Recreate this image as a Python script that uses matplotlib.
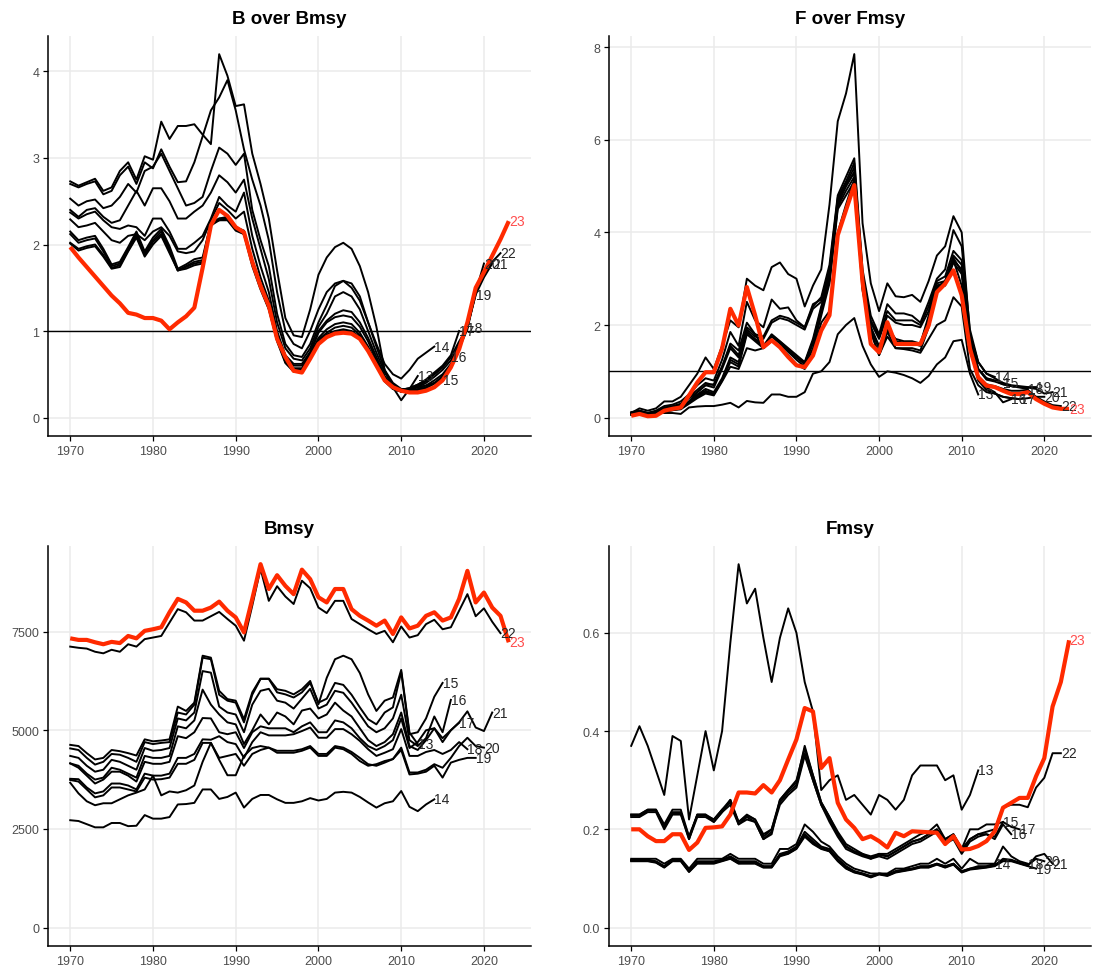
import numpy as np
import matplotlib
matplotlib.use('Agg')
import matplotlib.pyplot as plt

plt.rcParams['font.family'] = ['Liberation Sans', 'DejaVu Sans']

START_YEAR = 1970
runs = [13, 14, 15, 16, 17, 18, 19, 20, 21, 22, 23]

# ---- B over Bmsy (one list per assessment run, values from 1970 on)
bbmsy_13 = [2.73, 2.68, 2.72, 2.76, 2.62, 2.66, 2.85, 2.95, 2.75, 3.02, 2.98,
            3.42, 3.22, 3.37, 3.37, 3.39, 3.27, 3.16, 4.20, 3.95, 3.60,
            3.62, 3.05, 2.70, 2.30, 1.70, 1.15, 0.95, 0.93, 1.25, 1.65,
            1.85, 1.97, 2.02, 1.95, 1.75, 1.45, 1.05, 0.55, 0.35, 0.20,
            0.33, 0.48]
bbmsy_14 = [2.70, 2.66, 2.70, 2.73, 2.58, 2.62, 2.80, 2.90, 2.70, 2.95, 2.88,
            3.10, 2.90, 2.72, 2.73, 2.95, 3.25, 3.55, 3.70, 3.90, 3.55,
            3.10, 2.75, 2.45, 2.05, 1.45, 1.00, 0.85, 0.80, 1.00, 1.25,
            1.45, 1.55, 1.58, 1.50, 1.35, 1.10, 0.85, 0.62, 0.50, 0.45,
            0.55, 0.68, 0.75, 0.82]
bbmsy_15 = [2.53, 2.45, 2.50, 2.52, 2.42, 2.45, 2.55, 2.70, 2.60, 2.85, 2.90,
            3.05, 2.85, 2.65, 2.45, 2.48, 2.55, 2.85, 3.12, 3.05, 2.92,
            3.05, 2.40, 2.05, 1.75, 1.20, 0.85, 0.72, 0.70, 0.85, 1.10,
            1.30, 1.52, 1.58, 1.55, 1.40, 1.10, 0.82, 0.55, 0.40, 0.33,
            0.33, 0.35, 0.37, 0.40, 0.43]
bbmsy_16 = [2.40, 2.32, 2.40, 2.42, 2.32, 2.25, 2.28, 2.45, 2.62, 2.45, 2.65,
            2.65, 2.50, 2.30, 2.30, 2.38, 2.45, 2.60, 2.80, 2.72, 2.60,
            2.75, 2.30, 1.95, 1.60, 1.10, 0.80, 0.68, 0.66, 0.80, 1.05,
            1.20, 1.40, 1.45, 1.40, 1.25, 1.00, 0.75, 0.52, 0.38, 0.32,
            0.34, 0.38, 0.43, 0.50, 0.58, 0.70]
bbmsy_17 = [2.37, 2.30, 2.35, 2.38, 2.28, 2.20, 2.18, 2.22, 2.20, 2.10, 2.30,
            2.30, 2.15, 1.95, 1.95, 2.02, 2.10, 2.30, 2.55, 2.45, 2.38,
            2.60, 2.10, 1.75, 1.45, 1.00, 0.72, 0.62, 0.62, 0.76, 1.00,
            1.12, 1.20, 1.24, 1.22, 1.10, 0.92, 0.70, 0.48, 0.36, 0.32,
            0.34, 0.38, 0.44, 0.52, 0.60, 0.72, 1.00]
bbmsy_18 = [2.29, 2.20, 2.22, 2.25, 2.15, 2.05, 2.02, 2.10, 2.12, 2.05, 2.15,
            2.20, 2.10, 1.92, 1.90, 1.92, 2.05, 2.28, 2.48, 2.40, 2.30,
            2.38, 1.95, 1.62, 1.35, 0.95, 0.70, 0.60, 0.60, 0.74, 0.98,
            1.10, 1.16, 1.18, 1.16, 1.05, 0.88, 0.66, 0.46, 0.35, 0.31,
            0.33, 0.36, 0.42, 0.50, 0.58, 0.70, 0.88, 1.04]
bbmsy_19 = [2.15, 2.05, 2.08, 2.10, 1.95, 1.77, 1.80, 1.97, 2.15, 1.92, 2.08,
            2.18, 1.98, 1.72, 1.77, 1.83, 1.85, 2.25, 2.30, 2.32, 2.20,
            2.16, 1.82, 1.55, 1.30, 0.93, 0.68, 0.57, 0.57, 0.72, 0.92,
            1.02, 1.08, 1.10, 1.08, 0.98, 0.82, 0.63, 0.44, 0.34, 0.30,
            0.32, 0.35, 0.40, 0.47, 0.55, 0.66, 0.84, 1.05, 1.42]
bbmsy_20 = [2.12, 2.02, 2.05, 2.07, 1.92, 1.75, 1.78, 1.95, 2.13, 1.90, 2.05,
            2.15, 1.95, 1.70, 1.75, 1.80, 1.82, 2.25, 2.28, 2.30, 2.18,
            2.14, 1.80, 1.53, 1.28, 0.92, 0.66, 0.55, 0.55, 0.70, 0.90,
            0.98, 1.04, 1.06, 1.04, 0.95, 0.80, 0.62, 0.43, 0.34, 0.30,
            0.31, 0.33, 0.37, 0.43, 0.50, 0.62, 0.80, 1.02, 1.45, 1.78]
bbmsy_21 = [2.02, 1.95, 1.98, 2.00, 1.88, 1.73, 1.76, 1.93, 2.10, 1.88, 2.03,
            2.12, 1.92, 1.70, 1.74, 1.78, 1.80, 2.22, 2.28, 2.28, 2.16,
            2.12, 1.78, 1.50, 1.26, 0.90, 0.64, 0.54, 0.54, 0.69, 0.88,
            0.96, 1.00, 1.02, 1.00, 0.93, 0.78, 0.61, 0.42, 0.33, 0.30,
            0.30, 0.32, 0.35, 0.40, 0.48, 0.60, 0.80, 1.05, 1.42, 1.62, 1.78]
bbmsy_22 = [2.01, 1.93, 1.96, 1.98, 1.86, 1.72, 1.74, 1.92, 2.08, 1.86, 2.00,
            2.10, 1.90, 1.70, 1.72, 1.76, 1.78, 2.22, 2.30, 2.30, 2.18,
            2.12, 1.75, 1.48, 1.25, 0.88, 0.63, 0.53, 0.53, 0.68, 0.87,
            0.95, 0.99, 1.00, 0.99, 0.92, 0.77, 0.60, 0.42, 0.33, 0.30,
            0.30, 0.31, 0.34, 0.39, 0.46, 0.60, 0.80, 1.07, 1.48, 1.65, 1.80, 1.90]
bbmsy_23 = [1.97, 1.85, 1.74, 1.63, 1.52, 1.41, 1.32, 1.21, 1.19, 1.15, 1.15,
            1.12, 1.02, 1.10, 1.17, 1.27, 1.73, 2.22, 2.40, 2.33, 2.20,
            2.14, 1.80, 1.52, 1.29, 0.91, 0.70, 0.54, 0.52, 0.68, 0.85,
            0.93, 0.97, 0.98, 0.97, 0.91, 0.77, 0.60, 0.43, 0.35, 0.31,
            0.29, 0.29, 0.31, 0.35, 0.43, 0.58, 0.79, 1.10, 1.50, 1.68,
            1.87, 2.06, 2.27]

# ---- F over Fmsy
ffmsy_13 = [0.12, 0.15, 0.10, 0.12, 0.10, 0.10, 0.08, 0.22, 0.24, 0.25, 0.25,
            0.28, 0.32, 0.22, 0.36, 0.33, 0.32, 0.50, 0.50, 0.45, 0.45,
            0.55, 0.95, 1.00, 1.20, 1.80, 2.00, 2.15, 1.55, 1.15, 0.88,
            1.00, 0.97, 0.92, 0.85, 0.75, 0.90, 1.15, 1.30, 1.65, 1.68,
            0.95, 0.50]
ffmsy_14 = [0.10, 0.20, 0.15, 0.20, 0.35, 0.35, 0.45, 0.70, 0.95, 1.30, 1.05,
            1.55, 2.10, 1.95, 3.00, 2.85, 2.75, 3.25, 3.35, 3.10, 3.00,
            2.40, 2.85, 3.20, 4.60, 6.40, 7.00, 7.85, 4.20, 2.90, 2.30,
            2.90, 2.62, 2.60, 2.65, 2.50, 2.95, 3.50, 3.70, 4.35, 4.00,
            1.80, 1.20, 0.95, 0.88]
ffmsy_15 = [0.10, 0.15, 0.10, 0.15, 0.25, 0.28, 0.35, 0.50, 0.70, 0.85, 0.80,
            1.25, 1.85, 1.55, 2.50, 2.10, 1.95, 2.55, 2.35, 2.38, 2.10,
            1.95, 2.40, 2.60, 3.30, 4.80, 5.20, 5.60, 3.20, 2.20, 1.80,
            2.45, 2.25, 2.25, 2.20, 2.05, 2.50, 3.00, 3.20, 4.05, 3.70,
            1.90, 1.20, 0.95, 0.85, 0.75]
ffmsy_16 = [0.10, 0.14, 0.10, 0.14, 0.22, 0.25, 0.30, 0.45, 0.60, 0.75, 0.70,
            1.10, 1.55, 1.35, 1.95, 1.80, 1.75, 2.10, 2.20, 2.15, 2.05,
            1.95, 2.45, 2.55, 3.20, 4.75, 5.10, 5.50, 3.10, 2.10, 1.75,
            2.30, 2.10, 2.10, 2.10, 2.00, 2.40, 2.95, 3.05, 3.60, 3.40,
            1.60, 0.85, 0.65, 0.55, 0.33, 0.40]
ffmsy_17 = [0.09, 0.13, 0.09, 0.13, 0.20, 0.22, 0.28, 0.42, 0.55, 0.70, 0.65,
            1.05, 1.50, 1.30, 1.90, 1.75, 1.70, 2.05, 2.15, 2.10, 2.00,
            1.90, 2.35, 2.50, 3.10, 4.70, 5.05, 5.40, 3.00, 2.05, 1.70,
            2.20, 2.05, 2.00, 2.00, 1.95, 2.30, 2.90, 2.95, 3.50, 3.30,
            1.50, 0.80, 0.60, 0.52, 0.45, 0.42, 0.40]
ffmsy_18 = [0.08, 0.12, 0.08, 0.10, 0.18, 0.20, 0.22, 0.35, 0.50, 0.62, 0.55,
            0.85, 1.30, 1.20, 1.85, 1.70, 1.55, 1.80, 1.65, 1.50, 1.35,
            1.20, 1.70, 2.40, 3.00, 4.60, 5.00, 5.30, 2.90, 1.95, 1.55,
            1.95, 1.70, 1.65, 1.65, 1.60, 2.20, 2.85, 2.90, 3.40, 3.20,
            1.70, 1.05, 0.85, 0.80, 0.72, 0.68, 0.65, 0.62]
ffmsy_19 = [0.07, 0.10, 0.07, 0.09, 0.15, 0.18, 0.20, 0.32, 0.45, 0.55, 0.50,
            0.80, 1.20, 1.10, 1.80, 1.65, 1.50, 1.78, 1.62, 1.45, 1.30,
            1.15, 1.60, 2.30, 2.95, 4.55, 4.90, 5.20, 2.80, 1.90, 1.50,
            1.90, 1.65, 1.60, 1.60, 1.55, 2.10, 2.80, 2.85, 3.35, 3.10,
            1.65, 1.05, 0.85, 0.80, 0.75, 0.70, 0.68, 0.66, 0.66]
ffmsy_20 = [0.07, 0.10, 0.07, 0.08, 0.14, 0.16, 0.18, 0.30, 0.42, 0.52, 0.48,
            0.78, 1.10, 1.05, 1.50, 1.45, 1.50, 1.75, 1.60, 1.42, 1.25,
            1.10, 1.50, 2.20, 2.90, 4.50, 4.80, 5.10, 2.75, 1.85, 1.35,
            1.75, 1.50, 1.48, 1.45, 1.40, 1.70, 2.00, 2.10, 2.60, 2.40,
            1.05, 0.70, 0.55, 0.52, 0.45, 0.42, 0.40, 0.42, 0.45, 0.45]
ffmsy_21 = [0.08, 0.11, 0.08, 0.10, 0.16, 0.18, 0.20, 0.33, 0.48, 0.58, 0.52,
            0.82, 1.25, 1.15, 1.85, 1.68, 1.52, 1.78, 1.64, 1.48, 1.30,
            1.18, 1.65, 2.35, 3.05, 4.65, 5.00, 5.30, 2.85, 1.95, 1.50,
            1.90, 1.65, 1.62, 1.62, 1.58, 2.15, 2.85, 2.90, 3.45, 3.15,
            1.70, 1.05, 0.82, 0.78, 0.72, 0.68, 0.66, 0.65, 0.62, 0.52, 0.55]
ffmsy_22 = [0.06, 0.09, 0.06, 0.07, 0.13, 0.16, 0.20, 0.35, 0.55, 0.70, 0.72,
            1.10, 1.60, 1.45, 2.05, 1.80, 1.50, 1.65, 1.55, 1.35, 1.15,
            1.05, 1.40, 2.05, 2.30, 4.00, 4.60, 5.15, 2.90, 1.85, 1.35,
            1.85, 1.50, 1.50, 1.50, 1.45, 1.95, 2.80, 2.95, 3.40, 2.85,
            1.45, 0.90, 0.72, 0.68, 0.62, 0.58, 0.58, 0.60, 0.45, 0.35, 0.27, 0.25]
ffmsy_23 = [0.04, 0.08, 0.03, 0.04, 0.15, 0.19, 0.22, 0.48, 0.76, 0.98, 0.98,
            1.49, 2.35, 1.99, 2.82, 2.21, 1.52, 1.67, 1.52, 1.31, 1.13,
            1.09, 1.34, 1.88, 2.21, 3.94, 4.48, 5.02, 2.93, 1.59, 1.41,
            2.06, 1.59, 1.59, 1.59, 1.59, 1.99, 2.71, 2.89, 3.18, 2.64,
            1.49, 0.87, 0.69, 0.66, 0.58, 0.51, 0.51, 0.55, 0.40, 0.30,
            0.22, 0.19, 0.19]

# ---- Bmsy (t)
bmsy_13 = [4630, 4600, 4420, 4260, 4300, 4500, 4470, 4420, 4360, 4770, 4720,
           4740, 4770, 5600, 5490, 5700, 6890, 6840, 6000, 5790, 5750,
           5280, 5960, 6310, 6310, 6040, 6000, 5910, 6040, 6250, 5660,
           6330, 6800, 6890, 6800, 6450, 5910, 5490, 5750, 5830, 6530,
           4940, 4650]
bmsy_14 = [2720, 2700, 2620, 2540, 2540, 2650, 2650, 2570, 2580, 2850, 2760,
           2760, 2800, 3120, 3130, 3160, 3500, 3500, 3260, 3310, 3420,
           3040, 3260, 3360, 3360, 3250, 3160, 3160, 3200, 3280, 3220,
           3260, 3420, 3440, 3420, 3310, 3170, 3040, 3150, 3200, 3460,
           3060, 2950, 3120, 3250]
bmsy_15 = [4540, 4500, 4300, 4130, 4200, 4400, 4380, 4300, 4200, 4700, 4650,
           4680, 4700, 5450, 5400, 5650, 6840, 6800, 5900, 5750, 5700,
           5200, 5900, 6300, 6300, 5960, 5910, 5830, 5960, 6200, 5700,
           5800, 6200, 6150, 5900, 5580, 5280, 5150, 5450, 5580, 6480,
           4900, 4950, 5300, 5850, 6200]
bmsy_16 = [4350, 4300, 4100, 3950, 4000, 4250, 4200, 4100, 4000, 4550, 4480,
           4500, 4550, 5300, 5250, 5450, 6500, 6460, 5600, 5450, 5400,
           4950, 5650, 6000, 6050, 5750, 5700, 5550, 5800, 6050, 5550,
           5650, 6000, 5950, 5700, 5400, 5100, 4950, 5050, 5300, 5900,
           4750, 4600, 4800, 5350, 4950, 5770]
bmsy_17 = [4160, 4100, 3900, 3750, 3800, 4050, 4000, 3900, 3800, 4350, 4300,
           4300, 4350, 5100, 5050, 5250, 6030, 5650, 5400, 5200, 5150,
           4650, 5000, 5400, 5150, 5450, 5350, 5150, 5500, 5550, 5300,
           5400, 5700, 5500, 5350, 5050, 4750, 4600, 4700, 4900, 5450,
           4600, 4500, 4750, 5050, 4800, 5000, 5190]
bmsy_18 = [3770, 3760, 3550, 3400, 3450, 3650, 3650, 3600, 3500, 3900, 3850,
           3850, 3900, 4300, 4300, 4400, 4770, 4760, 4850, 4700, 4650,
           4300, 4700, 4950, 4870, 4870, 4870, 4900, 4980, 5070, 4810,
           4810, 5030, 5030, 4900, 4730, 4520, 4350, 4430, 4520, 5030,
           4350, 4350, 4450, 4500, 4400, 4500, 4700, 4520]
bmsy_19 = [3670, 3400, 3200, 3100, 3150, 3150, 3250, 3350, 3420, 3500, 3850,
           3350, 3450, 3420, 3480, 3600, 4200, 4680, 4250, 3860, 3860,
           4350, 4550, 4600, 4560, 4430, 4430, 4430, 4480, 4560, 4350,
           4350, 4560, 4520, 4400, 4220, 4100, 4140, 4220, 4270, 4500,
           3880, 3900, 3950, 4100, 3800, 4180, 4250, 4300, 4300]
bmsy_20 = [3740, 3700, 3500, 3300, 3350, 3550, 3550, 3500, 3450, 3800, 3750,
           3760, 3800, 4150, 4150, 4250, 4680, 4680, 4300, 4350, 4400,
           4100, 4400, 4500, 4560, 4480, 4480, 4480, 4520, 4600, 4400,
           4400, 4600, 4560, 4450, 4300, 4140, 4100, 4180, 4270, 4560,
           3930, 3930, 4000, 4140, 4050, 4300, 4600, 4810, 4600, 4560]
bmsy_21 = [4160, 4050, 3850, 3650, 3750, 3950, 3950, 3850, 3700, 4200, 4150,
           4150, 4200, 4850, 4800, 4950, 5310, 5300, 4950, 4900, 4950,
           4550, 4950, 5100, 5050, 5050, 5050, 4950, 5100, 5200, 4950,
           4950, 5250, 5200, 5050, 4800, 4600, 4500, 4600, 4750, 5300,
           4550, 4700, 5000, 5050, 4700, 5000, 5200, 5480, 5070, 4980, 5450]
bmsy_22 = [7120, 7090, 7070, 6990, 6950, 7040, 6990, 7180, 7120, 7310, 7350,
           7390, 7730, 8070, 7990, 7780, 7780, 7890, 8000, 7820, 7650,
           7270, 8160, 9090, 8280, 8650, 8390, 8200, 8790, 8600, 8110,
           7970, 8280, 8280, 7820, 7690, 7560, 7440, 7520, 7230, 7630,
           7350, 7410, 7690, 7800, 7560, 7610, 8030, 8450, 7890, 8090, 7750, 7460]
bmsy_23 = [7330, 7290, 7290, 7230, 7180, 7240, 7210, 7390, 7330, 7520, 7560,
           7610, 7990, 8330, 8240, 8030, 8030, 8110, 8260, 8030, 7860,
           7480, 8330, 9210, 8580, 8930, 8660, 8450, 9070, 8830, 8370,
           8240, 8580, 8580, 8070, 7900, 7780, 7650, 7780, 7440, 7860,
           7580, 7650, 7900, 7990, 7780, 7860, 8330, 9040, 8240, 8490,
           8110, 7900, 7230]

# ---- Fmsy
fmsy_13 = [0.37, 0.41, 0.37, 0.32, 0.27, 0.39, 0.38, 0.22, 0.31, 0.40, 0.32,
           0.40, 0.58, 0.74, 0.66, 0.69, 0.59, 0.50, 0.59, 0.65, 0.60,
           0.50, 0.44, 0.28, 0.30, 0.31, 0.26, 0.27, 0.25, 0.23, 0.27,
           0.26, 0.24, 0.26, 0.31, 0.33, 0.33, 0.33, 0.30, 0.31, 0.24,
           0.27, 0.32]
fmsy_14 = [0.140, 0.140, 0.140, 0.140, 0.130, 0.140, 0.140, 0.120, 0.140, 0.140, 0.140,
           0.140, 0.150, 0.140, 0.140, 0.140, 0.130, 0.130, 0.160, 0.160, 0.170,
           0.210, 0.195, 0.175, 0.165, 0.145, 0.130, 0.120, 0.115, 0.110, 0.110,
           0.110, 0.120, 0.120, 0.125, 0.130, 0.130, 0.140, 0.130, 0.140, 0.120,
           0.140, 0.130, 0.130, 0.130]
fmsy_15 = [0.230, 0.230, 0.240, 0.240, 0.205, 0.235, 0.235, 0.180, 0.230, 0.230, 0.215,
           0.235, 0.260, 0.210, 0.225, 0.215, 0.180, 0.190, 0.260, 0.280, 0.300,
           0.365, 0.310, 0.255, 0.225, 0.195, 0.170, 0.160, 0.150, 0.140, 0.150,
           0.150, 0.160, 0.170, 0.180, 0.190, 0.195, 0.210, 0.180, 0.190, 0.160,
           0.200, 0.200, 0.210, 0.210, 0.215]
fmsy_16 = [0.228, 0.228, 0.238, 0.238, 0.205, 0.232, 0.232, 0.185, 0.228, 0.228, 0.220,
           0.240, 0.255, 0.215, 0.228, 0.220, 0.190, 0.200, 0.255, 0.275, 0.290,
           0.355, 0.300, 0.250, 0.220, 0.190, 0.165, 0.155, 0.148, 0.142, 0.148,
           0.145, 0.155, 0.165, 0.175, 0.180, 0.190, 0.200, 0.175, 0.185, 0.155,
           0.180, 0.190, 0.190, 0.180, 0.210, 0.190]
fmsy_17 = [0.225, 0.225, 0.235, 0.235, 0.200, 0.230, 0.230, 0.180, 0.225, 0.225, 0.215,
           0.235, 0.250, 0.210, 0.220, 0.215, 0.180, 0.195, 0.250, 0.270, 0.285,
           0.350, 0.300, 0.250, 0.215, 0.185, 0.160, 0.152, 0.145, 0.140, 0.145,
           0.140, 0.150, 0.160, 0.170, 0.175, 0.185, 0.195, 0.170, 0.180, 0.150,
           0.175, 0.185, 0.190, 0.185, 0.215, 0.205, 0.200]
fmsy_18 = [0.138, 0.138, 0.138, 0.135, 0.125, 0.138, 0.138, 0.115, 0.135, 0.135, 0.135,
           0.138, 0.145, 0.135, 0.135, 0.135, 0.125, 0.125, 0.150, 0.155, 0.165,
           0.195, 0.180, 0.165, 0.160, 0.140, 0.125, 0.115, 0.110, 0.105, 0.110,
           0.108, 0.115, 0.118, 0.120, 0.125, 0.125, 0.130, 0.125, 0.130, 0.115,
           0.120, 0.125, 0.125, 0.130, 0.165, 0.145, 0.135, 0.130]
fmsy_19 = [0.135, 0.135, 0.135, 0.132, 0.122, 0.135, 0.135, 0.113, 0.130, 0.130, 0.130,
           0.135, 0.140, 0.130, 0.130, 0.130, 0.122, 0.122, 0.145, 0.150, 0.160,
           0.185, 0.170, 0.160, 0.155, 0.135, 0.120, 0.112, 0.108, 0.102, 0.108,
           0.105, 0.112, 0.115, 0.118, 0.122, 0.122, 0.128, 0.122, 0.128, 0.112,
           0.118, 0.120, 0.122, 0.125, 0.135, 0.135, 0.130, 0.125, 0.120]
fmsy_20 = [0.137, 0.137, 0.137, 0.134, 0.124, 0.137, 0.137, 0.115, 0.133, 0.133, 0.133,
           0.137, 0.142, 0.132, 0.133, 0.133, 0.124, 0.124, 0.148, 0.152, 0.162,
           0.190, 0.175, 0.162, 0.157, 0.138, 0.122, 0.114, 0.110, 0.104, 0.110,
           0.107, 0.114, 0.117, 0.120, 0.124, 0.124, 0.130, 0.124, 0.130, 0.114,
           0.120, 0.122, 0.124, 0.127, 0.140, 0.138, 0.132, 0.127, 0.140, 0.135]
fmsy_21 = [0.136, 0.136, 0.136, 0.133, 0.123, 0.136, 0.136, 0.114, 0.132, 0.132, 0.132,
           0.136, 0.141, 0.131, 0.132, 0.132, 0.123, 0.123, 0.147, 0.151, 0.161,
           0.188, 0.173, 0.161, 0.156, 0.137, 0.121, 0.113, 0.109, 0.103, 0.109,
           0.106, 0.113, 0.116, 0.119, 0.123, 0.123, 0.129, 0.123, 0.129, 0.113,
           0.119, 0.121, 0.123, 0.126, 0.138, 0.137, 0.131, 0.126, 0.145, 0.150, 0.130]
fmsy_22 = [0.230, 0.230, 0.240, 0.240, 0.210, 0.240, 0.240, 0.185, 0.230, 0.230, 0.220,
           0.240, 0.260, 0.215, 0.230, 0.220, 0.185, 0.200, 0.260, 0.280, 0.295,
           0.370, 0.310, 0.255, 0.225, 0.190, 0.165, 0.155, 0.150, 0.145, 0.150,
           0.145, 0.155, 0.165, 0.175, 0.180, 0.190, 0.200, 0.180, 0.190, 0.160,
           0.180, 0.190, 0.195, 0.200, 0.245, 0.250, 0.250, 0.245, 0.285, 0.305,
           0.355, 0.355]
fmsy_23 = [0.200, 0.200, 0.186, 0.176, 0.176, 0.190, 0.190, 0.158, 0.173, 0.203, 0.204,
           0.206, 0.230, 0.275, 0.275, 0.273, 0.290, 0.275, 0.300, 0.342, 0.383,
           0.447, 0.440, 0.325, 0.345, 0.254, 0.220, 0.203, 0.180, 0.186, 0.176,
           0.163, 0.193, 0.186, 0.196, 0.195, 0.194, 0.193, 0.170, 0.186, 0.159,
           0.160, 0.166, 0.176, 0.196, 0.244, 0.254, 0.264, 0.264, 0.308, 0.345,
           0.450, 0.500, 0.585]

bbmsy = {13: bbmsy_13, 14: bbmsy_14, 15: bbmsy_15, 16: bbmsy_16, 17: bbmsy_17, 18: bbmsy_18,
         19: bbmsy_19, 20: bbmsy_20, 21: bbmsy_21, 22: bbmsy_22, 23: bbmsy_23}
ffmsy = {13: ffmsy_13, 14: ffmsy_14, 15: ffmsy_15, 16: ffmsy_16, 17: ffmsy_17, 18: ffmsy_18,
         19: ffmsy_19, 20: ffmsy_20, 21: ffmsy_21, 22: ffmsy_22, 23: ffmsy_23}
bmsy = {13: bmsy_13, 14: bmsy_14, 15: bmsy_15, 16: bmsy_16, 17: bmsy_17, 18: bmsy_18,
        19: bmsy_19, 20: bmsy_20, 21: bmsy_21, 22: bmsy_22, 23: bmsy_23}
fmsy = {13: fmsy_13, 14: fmsy_14, 15: fmsy_15, 16: fmsy_16, 17: fmsy_17, 18: fmsy_18,
        19: fmsy_19, 20: fmsy_20, 21: fmsy_21, 22: fmsy_22, 23: fmsy_23}

RED = '#FF2A00'
W, H = 1096, 979


def pxAxes(fig, left, top, right, bottom):
    # axes box given in pixel coords of the reference
    return fig.add_axes([left / W, 1 - bottom / H, (right - left) / W, (bottom - top) / H])


def drawPanel(ax, data, title, ylim, yticks, yticklabels, hline=False):
    for run in runs:
        vals = np.array(data[run])
        yrs = START_YEAR + np.arange(len(vals))
        if run == 23:
            ax.plot(yrs, vals, color=RED, lw=3.0, zorder=4, solid_capstyle='butt')
        else:
            ax.plot(yrs, vals, color='black', lw=1.4, zorder=3)
    # run labels at the last year of each run
    for run in runs:
        vals = data[run]
        x_end = START_YEAR + len(vals) - 1
        col = '#FF4D4D' if run == 23 else '#262626'
        ax.text(x_end, vals[-1], str(run), color=col, fontsize=10,
                ha='left', va='center', zorder=5)
    if hline:
        ax.axhline(1, color='black', lw=1.0, zorder=3.5)

    ax.set_xlim(1967.35, 2025.65)
    ax.set_ylim(*ylim)
    ax.set_xticks(np.arange(1970, 2021, 10))
    ax.set_yticks(yticks)
    ax.set_yticklabels(yticklabels)
    ax.grid(color='#EBEBEB', lw=1.1)
    ax.set_axisbelow(True)
    for side in ['top', 'right']:
        ax.spines[side].set_visible(False)
    for side in ['left', 'bottom']:
        ax.spines[side].set_linewidth(1.1)
    ax.tick_params(direction='out', length=3.5, width=0.9, color='black',
                   labelsize=9, labelcolor='#4D4D4D', pad=3)
    ax.set_title(title, fontsize=13.5, fontweight='bold', pad=9)


fig = plt.figure(figsize=(W / 100, H / 100), dpi=100)

ax1 = pxAxes(fig, 48.3, 37, 530.7, 436.7)
drawPanel(ax1, bbmsy, 'B over Bmsy', (-0.21, 4.41), [0, 1, 2, 3, 4],
          ['0', '1', '2', '3', '4'], hline=True)

ax2 = pxAxes(fig, 609.3, 37, 1091, 436.7)
drawPanel(ax2, ffmsy, 'F over Fmsy', (-0.39, 8.24), [0, 2, 4, 6, 8],
          ['0', '2', '4', '6', '8'], hline=True)

ax3 = pxAxes(fig, 48.3, 547, 530.7, 946.7)
drawPanel(ax3, bmsy, 'Bmsy', (-460, 9670), [0, 2500, 5000, 7500],
          ['0', '2500', '5000', '7500'])

ax4 = pxAxes(fig, 609.3, 547, 1091, 946.7)
drawPanel(ax4, fmsy, 'Fmsy', (-0.037, 0.777), [0.0, 0.2, 0.4, 0.6],
          ['0.0', '0.2', '0.4', '0.6'])

fig.savefig('out.png', dpi=100, facecolor='white')
